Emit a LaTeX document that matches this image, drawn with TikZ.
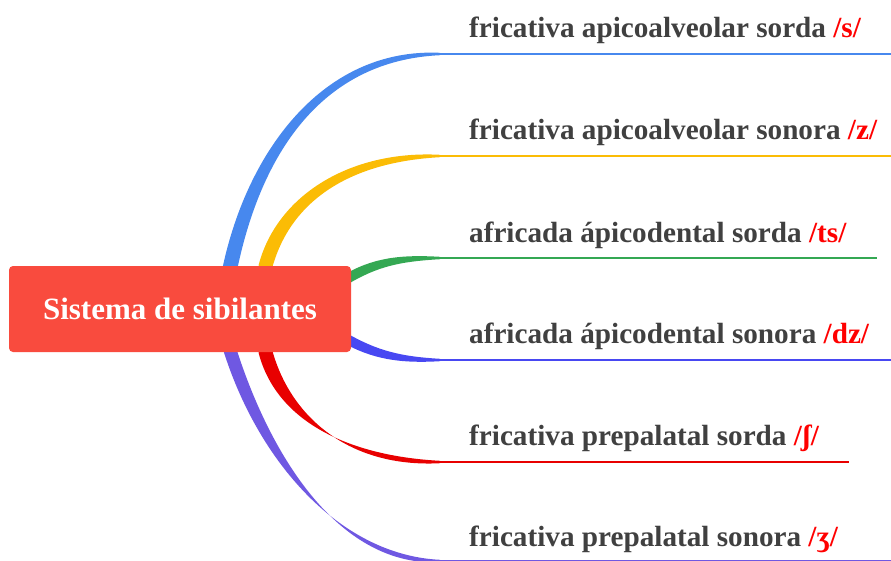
\documentclass[tikz,border=0pt]{standalone}
\usepackage{fontspec}
\setmainfont{Liberation Serif}
\usetikzlibrary{calc}
\definecolor{cBlue}{HTML}{4788EE}
\definecolor{cYellow}{HTML}{FBBC05}
\definecolor{cGreen}{HTML}{34A853}
\definecolor{cIndigo}{HTML}{4848F2}
\definecolor{cRed}{HTML}{E80000}
\definecolor{cPurple}{HTML}{6F58E2}
\definecolor{cRoot}{HTML}{F94B3E}
\definecolor{cText}{HTML}{404040}
\definecolor{cPhon}{HTML}{FF0000}
% #1 colour, #2 start, #3 control 1, #4 control 2, #5 end, #6 start normal,
% #7 half width at start, #8 half width at control 2, #9 half width at end
\newcommand\taper[9]{%
  \fill[#1] ($#2+#7*#6$) .. controls ($#3+#7*#6$) and ($#4+(0,#8)$) .. ($#5+(0,#9)$)
    -- ($#5-(0,#9)$) .. controls ($#4-(0,#8)$) and ($#3-#7*#6$) .. ($#2-#7*#6$) -- cycle;}
\begin{document}
\begin{tikzpicture}[x=1pt,y=-1pt,
  leaf/.style={anchor=base west,inner sep=0pt,font=\bfseries\fontsize{29.2}{34}\selectfont,text=cText},
  hline/.style={line width=2pt}]
\useasboundingbox (0,0) rectangle (891,560);
\clip (0,0) rectangle (891,560);
% branch coordinates
\coordinate (s1) at (230,268); \coordinate (c1a) at (255,150); \coordinate (c1b) at (324,54); \coordinate (e1) at (440,54); \coordinate (f1) at (891,54);
\coordinate (s2) at (265,268); \coordinate (c2a) at (283,198); \coordinate (c2b) at (350,156); \coordinate (e2) at (440,156); \coordinate (f2) at (891,156);
\coordinate (s3) at (345,280); \coordinate (c3a) at (375,262); \coordinate (c3b) at (400,258); \coordinate (e3) at (440,258); \coordinate (f3) at (877,258);
\coordinate (s4) at (345,338); \coordinate (c4a) at (375,355); \coordinate (c4b) at (400,360); \coordinate (e4) at (440,360); \coordinate (f4) at (891,360);
\coordinate (s5) at (265,350); \coordinate (c5a) at (283,420); \coordinate (c5b) at (350,462); \coordinate (e5) at (440,462); \coordinate (f5) at (849,462);
\coordinate (s6) at (230,350); \coordinate (c6a) at (265,460); \coordinate (c6b) at (340,561); \coordinate (e6) at (440,561); \coordinate (f6) at (891,561);
% tapered curves
\taper{cBlue}{(s1)}{(c1a)}{(c1b)}{(e1)}{(1,0)}{7.5}{6.5}{1.2}
\taper{cYellow}{(s2)}{(c2a)}{(c2b)}{(e2)}{(0.93,0.35)}{7}{6}{1.2}
\taper{cGreen}{(s3)}{(c3a)}{(c3b)}{(e3)}{(0.5,0.87)}{5}{3.5}{1.2}
\taper{cIndigo}{(s4)}{(c4a)}{(c4b)}{(e4)}{(-0.5,0.87)}{5}{3.5}{1.2}
\taper{cRed}{(s5)}{(c5a)}{(c5b)}{(e5)}{(0.93,-0.35)}{7}{6}{1.2}
\taper{cPurple}{(s6)}{(c6a)}{(c6b)}{(e6)}{(0.95,-0.3)}{6.5}{6}{1.2}
% horizontal lines
\draw[hline,cBlue] (e1) -- (f1);
\draw[hline,cYellow] (e2) -- (f2);
\draw[hline,cGreen] (e3) -- (f3);
\draw[hline,cIndigo] (e4) -- (f4);
\draw[hline,cRed] (e5) -- (f5);
\draw[hline,cPurple] (e6) -- (f6);
% root
\node[fill=cRoot,rounded corners=4pt,minimum width=342pt,minimum height=86pt,inner sep=0pt,
  text=white,font=\bfseries\fontsize{31}{36}\selectfont] (root) at (180,309) {Sistema de sibilantes};
% labels
\node[leaf] (l1) at (469,37) {fricativa apicoalveolar sorda \textcolor{cPhon}{/s/}};
\node[leaf] (l2) at (469,139) {fricativa apicoalveolar sonora \textcolor{cPhon}{/z/}};
\node[leaf] (l3) at (469,242) {africada ápicodental sorda \textcolor{cPhon}{/ts/}};
\node[leaf] (l4) at (469,343) {africada ápicodental sonora \textcolor{cPhon}{/dz/}};
\node[leaf] (l5) at (469,445) {fricativa prepalatal sorda \textcolor{cPhon}{/ʃ/}};
\node[leaf] (l6) at (469,546) {fricativa prepalatal sonora \textcolor{cPhon}{/ʒ/}};
\end{tikzpicture}
\end{document}
